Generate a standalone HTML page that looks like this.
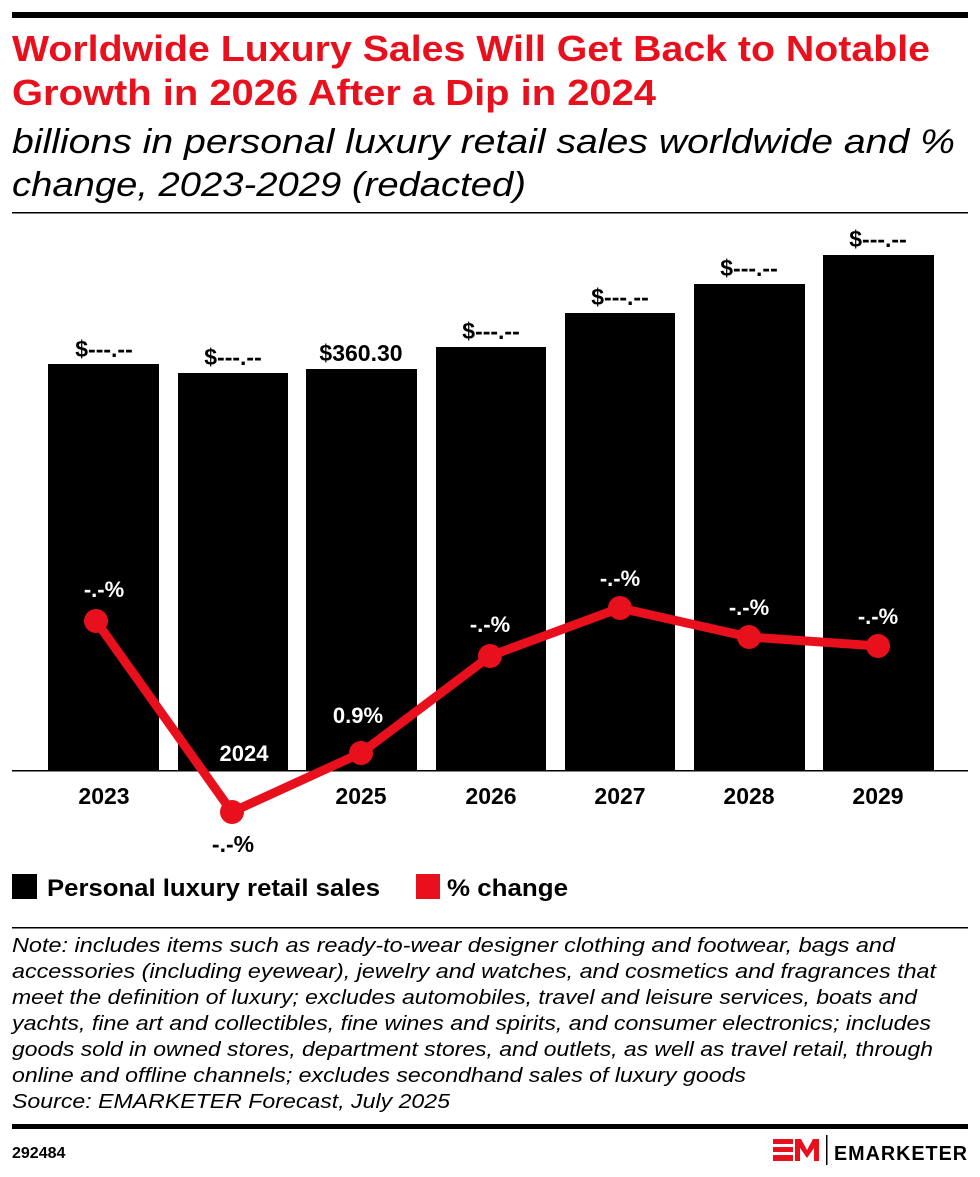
<!DOCTYPE html>
<html><head><meta charset="utf-8"><style>
html,body{margin:0;padding:0;background:#fff;}
svg{display:block;font-family:"Liberation Sans",sans-serif;}
</style></head><body>
<svg width="980" height="1177" viewBox="0 0 980 1177">
<rect x="12" y="12" width="956" height="6" fill="#000"/>
<g fill="#e8101d" font-weight="bold" font-size="36">
<text x="12" y="61" textLength="918" lengthAdjust="spacingAndGlyphs">Worldwide Luxury Sales Will Get Back to Notable</text>
<text x="12" y="105" textLength="644" lengthAdjust="spacingAndGlyphs">Growth in 2026 After a Dip in 2024</text>
</g>
<g fill="#000" font-style="italic" font-size="34">
<text x="12" y="153" textLength="943" lengthAdjust="spacingAndGlyphs">billions in personal luxury retail sales worldwide and %</text>
<text x="12" y="196" textLength="514" lengthAdjust="spacingAndGlyphs">change, 2023-2029 (redacted)</text>
</g>
<rect x="12" y="212" width="956" height="1.5" fill="#000"/>
<g fill="#000">
<rect x="48" y="364" width="111" height="407"/>
<rect x="178" y="373" width="110" height="398"/>
<rect x="306" y="369" width="111" height="402"/>
<rect x="436" y="347" width="110" height="424"/>
<rect x="565" y="313" width="110" height="458"/>
<rect x="694" y="284" width="111" height="487"/>
<rect x="823" y="255" width="111" height="516"/>
</g>
<rect x="12" y="770" width="956" height="1.5" fill="#000"/>
<g font-weight="bold" font-size="23" text-anchor="middle" fill="#000">
<text x="104" y="357">$---.--</text>
<text x="233" y="365">$---.--</text>
<text x="361" y="361">$360.30</text>
<text x="491" y="339">$---.--</text>
<text x="620" y="305">$---.--</text>
<text x="749" y="276">$---.--</text>
<text x="878" y="247">$---.--</text>
<text x="104" y="804">2023</text>
<text x="361" y="804">2025</text>
<text x="491" y="804">2026</text>
<text x="620" y="804">2027</text>
<text x="749" y="804">2028</text>
<text x="878" y="804">2029</text>
<text x="233" y="852">-.-%</text>
</g>
<polyline points="96,621 232,812 361,753 490,656 620,608 749,637 878,646" fill="none" stroke="#e8101d" stroke-width="9" stroke-linejoin="round"/>
<g fill="#e8101d">
<circle cx="96" cy="621" r="12"/><circle cx="232" cy="812" r="12"/><circle cx="361" cy="753" r="12"/>
<circle cx="490" cy="656" r="12"/><circle cx="620" cy="608" r="12"/><circle cx="749" cy="637" r="12"/><circle cx="878" cy="646" r="12"/>
</g>
<g font-weight="bold" font-size="22" text-anchor="middle" fill="#fff">
<text x="104" y="597">-.-%</text>
<text x="244" y="761">2024</text>
<text x="358" y="723">0.9%</text>
<text x="490" y="632">-.-%</text>
<text x="620" y="586">-.-%</text>
<text x="749" y="615">-.-%</text>
<text x="878" y="624">-.-%</text>
</g>
<rect x="12" y="874" width="25" height="25" fill="#000"/>
<text x="47" y="896" font-size="24" font-weight="bold" textLength="333" lengthAdjust="spacingAndGlyphs">Personal luxury retail sales</text>
<rect x="416" y="874" width="24" height="25" fill="#e8101d"/>
<text x="447" y="896" font-size="24" font-weight="bold" textLength="121" lengthAdjust="spacingAndGlyphs">% change</text>
<rect x="12" y="927" width="956" height="1.5" fill="#000"/>
<g font-style="italic" font-size="20" fill="#000">
<text x="12" y="952" textLength="883" lengthAdjust="spacingAndGlyphs">Note: includes items such as ready-to-wear designer clothing and footwear, bags and</text>
<text x="12" y="978" textLength="924" lengthAdjust="spacingAndGlyphs">accessories (including eyewear), jewelry and watches, and cosmetics and fragrances that</text>
<text x="12" y="1004" textLength="905" lengthAdjust="spacingAndGlyphs">meet the definition of luxury; excludes automobiles, travel and leisure services, boats and</text>
<text x="12" y="1030" textLength="919" lengthAdjust="spacingAndGlyphs">yachts, fine art and collectibles, fine wines and spirits, and consumer electronics; includes</text>
<text x="12" y="1056" textLength="921" lengthAdjust="spacingAndGlyphs">goods sold in owned stores, department stores, and outlets, as well as travel retail, through</text>
<text x="12" y="1082" textLength="734" lengthAdjust="spacingAndGlyphs">online and offline channels; excludes secondhand sales of luxury goods</text>
<text x="12" y="1108" textLength="438" lengthAdjust="spacingAndGlyphs">Source: EMARKETER Forecast, July 2025</text>
</g>
<rect x="12" y="1124" width="956" height="5" fill="#000"/>
<text x="12" y="1158" font-size="16" font-weight="bold">292484</text>
<g fill="#e8101d">
<rect x="773" y="1139" width="20" height="5"/><rect x="773" y="1147" width="20" height="5"/><rect x="773" y="1155" width="20" height="6"/>
<polygon points="795,1161 795,1139 801,1139 807,1150 813,1139 819,1139 819,1161 814,1161 814,1148 807,1158 800,1148 800,1161"/>
</g>
<rect x="826" y="1135" width="1.5" height="30" fill="#000"/>
<text x="834" y="1160" font-size="20" font-weight="bold" letter-spacing="1" textLength="134" lengthAdjust="spacingAndGlyphs">EMARKETER</text>
</svg>
</body></html>
